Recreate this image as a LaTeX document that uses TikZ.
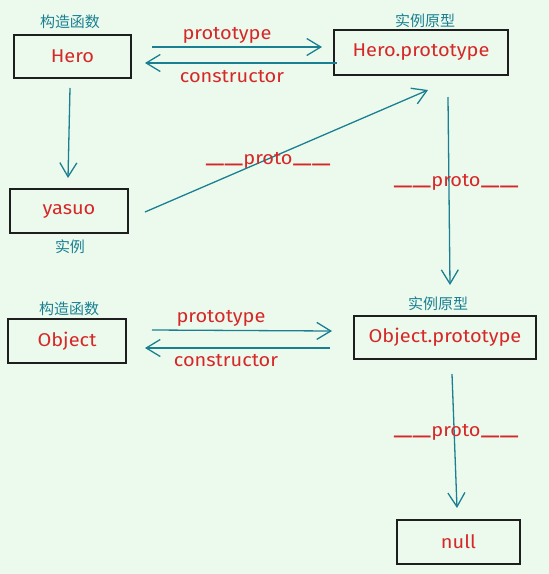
\documentclass[tikz,border=0pt]{standalone}
\usepackage{fontspec}
\setmainfont[FakeStretch=1.08]{Fira Sans}
\newfontfamily\cjk{Noto Sans CJK SC}
\usetikzlibrary{arrows.meta}
\definecolor{bgc}{RGB}{236,250,238}
\definecolor{redt}{RGB}{214,40,40}
\definecolor{tealc}{RGB}{26,128,145}
\definecolor{inkc}{RGB}{30,30,30}
\newcommand{\uline}{\raisebox{2pt}{\scalebox{1.85}[1.3]{\_\_}}}
\tikzset{
  box/.style={draw=inkc, line width=1.4pt, minimum width=#1, minimum height=44pt, inner sep=0pt,
    font=\fontsize{18.5}{21}\selectfont, text=redt},
  box/.default=118pt,
  cn/.style={text=tealc, font=\cjk\fontsize{15}{17}\selectfont, inner sep=0pt},
  lbl/.style={text=redt, font=\fontsize{18.5}{21}\selectfont, inner sep=0pt},
  arr/.style={draw=tealc, line width=1.3pt, -{Straight Barb[length=14pt,width=17pt,line width=1.3pt]}},
}
\begin{document}
\begin{tikzpicture}[x=1pt,y=-1pt]
\fill[bgc] (0,0) rectangle (549,574);
\useasboundingbox (0,0) rectangle (549,574);

% boxes
\node[box=117pt, minimum height=43pt] (hero) at (72.5,56.5) {Hero};
\node[box=174pt, minimum height=45pt] (heroproto) at (421,52.5) {Hero.prototype};
\node[box=118pt] (yasuo) at (69,211) {yasuo};
\node[box=118pt] (object) at (67,341) {Object};
\node[box=182pt, minimum height=43pt] (objproto) at (445,337.5) {Object.prototype};
\node[box=123pt] (null) at (458.5,542) {null};

% chinese labels
\node[cn] (c1) at (70,22) {构造函数};
\node[cn] (c2) at (425,21) {实例原型};
\node[cn] (c3) at (70,247) {实例};
\node[cn] (c4) at (69,309) {构造函数};
\node[cn] (c5) at (438,304) {实例原型};

% coordinates
\coordinate (a1s) at (152,47); \coordinate (a1e) at (322,47);
\coordinate (a2s) at (337,63); \coordinate (a2e) at (145,63);
\coordinate (a3s) at (70,88); \coordinate (a3e) at (68,178);
\coordinate (a4s) at (145,212); \coordinate (a4e) at (428,90);
\coordinate (a5s) at (448,97); \coordinate (a5e) at (450,285);
\coordinate (b1s) at (152,330); \coordinate (b1e) at (332,331);
\coordinate (b2s) at (330,348); \coordinate (b2e) at (145,348);
\coordinate (b3s) at (452,374); \coordinate (b3e) at (457,508);

\draw[arr] (a1s) -- (a1e);
\draw[arr] (a2s) -- (a2e);
\draw[arr] (a3s) -- (a3e);
\draw[arr] (a4s) -- (a4e);
\draw[arr] (a5s) -- (a5e);
\draw[arr] (b1s) -- (b1e);
\draw[arr] (b2s) -- (b2e);
\draw[arr] (b3s) -- (b3e);

% labels
\node[lbl] (l1) at (227,35) {prototype};
\node[lbl] (l2) at (232,77) {constructor};
\node[lbl] (l3) at (268,160) {\uline proto\uline};
\node[lbl] (l4) at (456,182) {\uline proto\uline};
\node[lbl] (l5) at (221,318) {prototype};
\node[lbl] (l6) at (226,361) {constructor};
\node[lbl] (l7) at (456,432) {\uline proto\uline};
\end{tikzpicture}
\end{document}
